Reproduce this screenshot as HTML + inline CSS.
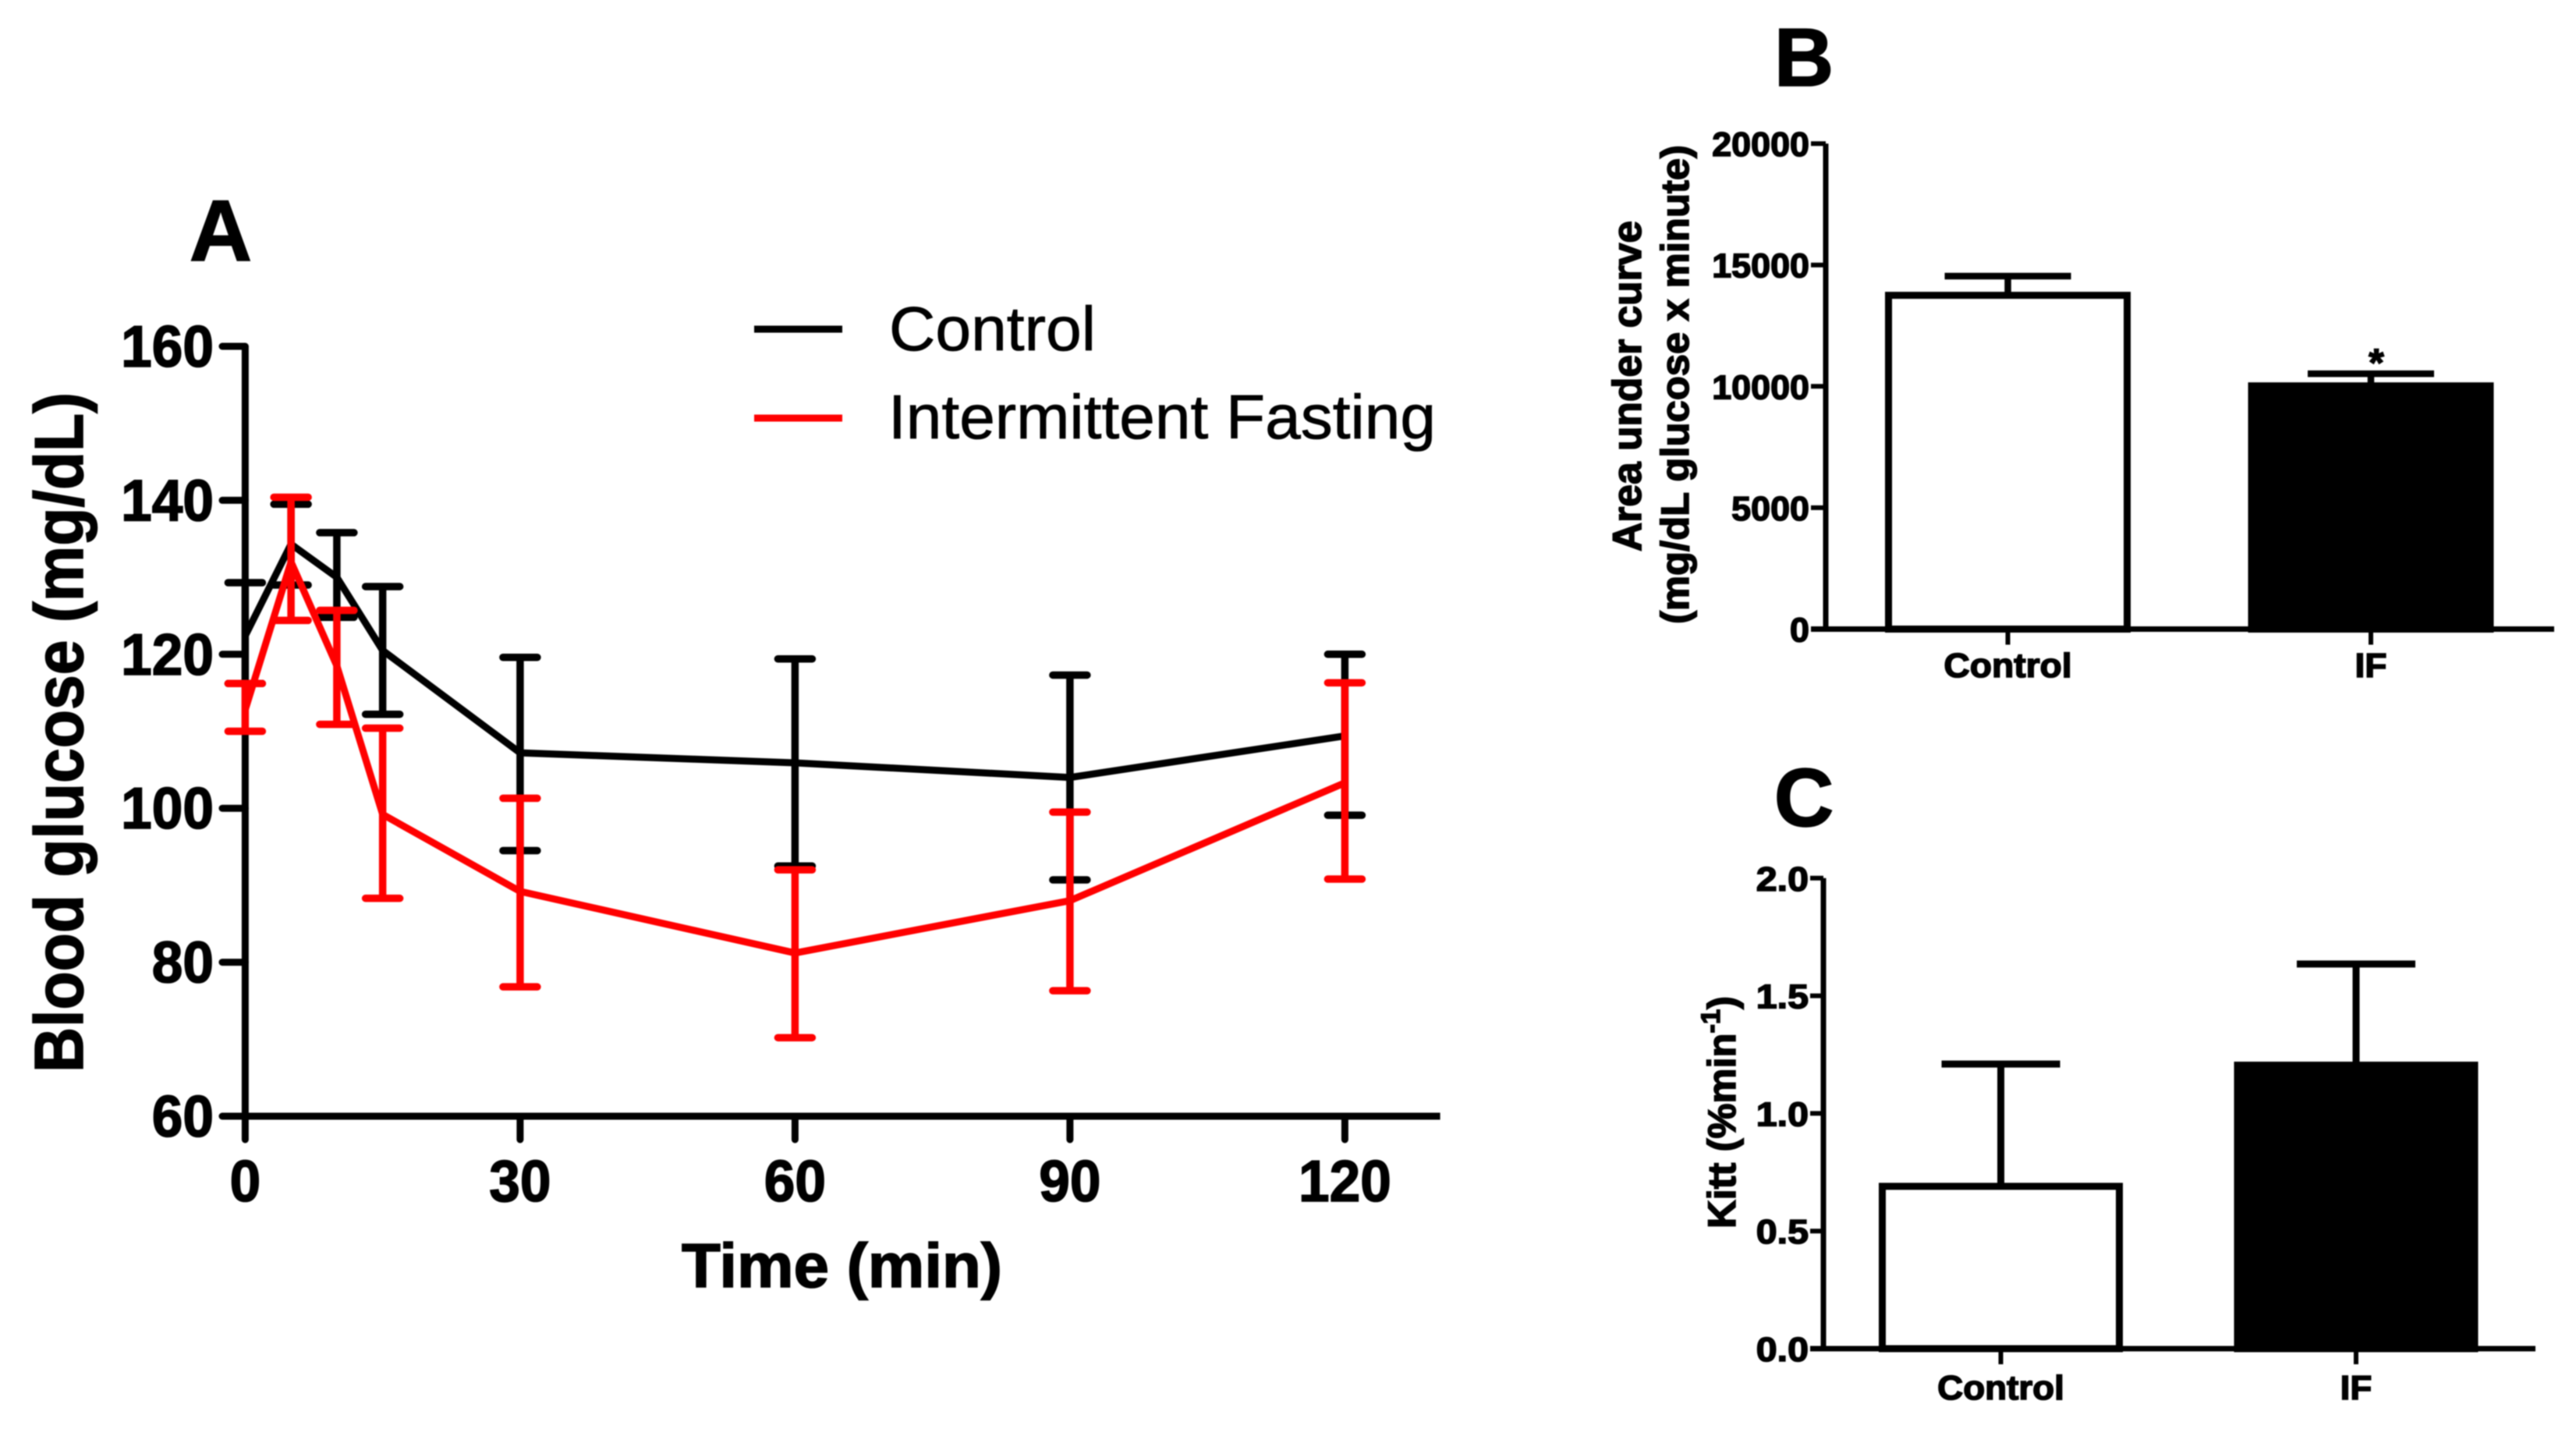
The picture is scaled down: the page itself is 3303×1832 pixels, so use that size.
<!DOCTYPE html>
<html lang="en">
<head>
<meta charset="utf-8">
<title>Blood glucose, area under curve and Kitt</title>
<style>
html,body{margin:0;padding:0;background:#fff;}
body{width:3303px;height:1832px;overflow:hidden;}
svg{display:block;filter:blur(0.8px);}
text{font-family:"Liberation Sans",Arial,sans-serif;fill:#000;stroke:#000;stroke-width:0.8px;}
.bold{font-weight:bold;stroke-width:1.6px;}
</style>
</head>
<body>
<svg id="figure" xmlns="http://www.w3.org/2000/svg" width="3303" height="1832" viewBox="0 0 3303 1832">
  <rect x="0" y="0" width="3303" height="1832" fill="#fff"/>

  <text class="bold" x="283" y="334" font-size="111" text-anchor="middle">A</text>
  <text class="bold" x="2313" y="110" font-size="106" text-anchor="middle">B</text>
  <text class="bold" x="2313" y="1059" font-size="106" text-anchor="middle">C</text>

  <text class="bold" transform="translate(106,939) rotate(-90)" font-size="88" text-anchor="middle" textLength="872" lengthAdjust="spacingAndGlyphs">Blood glucose (mg/dL)</text>
  <text class="bold" x="1079.5" y="1650" font-size="80" text-anchor="middle" textLength="411" lengthAdjust="spacingAndGlyphs">Time (min)</text>

  <g>
    <line x1="967" y1="422" x2="1080" y2="422" stroke="#000" stroke-width="9"/>
    <text x="1140" y="449" font-size="80" textLength="265" lengthAdjust="spacingAndGlyphs">Control</text>
    <line x1="967" y1="536" x2="1080" y2="536" stroke="#f00" stroke-width="9"/>
    <text x="1139" y="562" font-size="80" textLength="702" lengthAdjust="spacingAndGlyphs">Intermittent Fasting</text>
  </g>

  <text class="bold" transform="translate(2104,495) rotate(-90)" font-size="52" text-anchor="middle" textLength="424" lengthAdjust="spacingAndGlyphs">Area under curve</text>
  <text class="bold" transform="translate(2165,493) rotate(-90)" font-size="50" text-anchor="middle" textLength="614" lengthAdjust="spacingAndGlyphs">(mg/dL glucose x minute)</text>
  <text class="bold" x="3047" y="482" font-size="50" text-anchor="middle">*</text>

  <text class="bold" transform="translate(2225,1426) rotate(-90)" font-size="50" text-anchor="middle" textLength="298" lengthAdjust="spacingAndGlyphs">Kitt (%min<tspan font-size="34" dy="-20">-1</tspan><tspan dy="20">)</tspan></text>

  <g id="chart-a"></g>
  <g id="chart-b"></g>
  <g id="chart-c"></g>
</svg>

<script>
// Panel A data
const minutes = [0, 5, 10, 15, 30, 60, 90, 120];
const controlMeans = [122.4, 134.3, 130, 120.5, 107.2, 105.9, 104, 109.4];
const controlUpper = [129.3, 139.5, 135.8, 128.8, 119.6, 119.4, 117.3, 120];
const controlLower = [116.2, 129, 124.8, 112.2, 94.5, 92.5, 90.7, 99.1];
const fastingMeans = [112.8, 132, 118.5, 99.2, 89.2, 81.2, 88, 103.3];
const fastingUpper = [116.2, 140.4, 125.7, 110.4, 101.3, 92, 99.5, 116.3];
const fastingLower = [110, 124.4, 110.9, 88.3, 76.8, 70.2, 76.3, 90.8];
const glucoseXTicks = [0, 30, 60, 90, 120];
const glucoseYTicks = [60, 80, 100, 120, 140, 160];

// Panel B data
const aucCategories = ['Control', 'IF'];
const aucMeans = [13750, 10020];
const aucUpper = [14540, 10520];
const aucYTicks = [0, 5000, 10000, 15000, 20000];

// Panel C data
const kittCategories = ['Control', 'IF'];
const kittMeans = [0.69, 1.205];
const kittUpper = [1.21, 1.635];
const kittYTicks = ['0.0', '0.5', '1.0', '1.5', '2.0'];

const NS = 'http://www.w3.org/2000/svg';

function shape(parent, tag, props) {
  const node = document.createElementNS(NS, tag);
  for (const key in props) node.setAttribute(key, props[key]);
  parent.appendChild(node);
  return node;
}
function label(parent, x, y, str, size, sx, anchor) {
  const node = shape(parent, 'text', {
    class: 'bold',
    transform: 'translate(' + x + ',' + y + ') scale(' + sx + ',1)',
    'font-size': size,
    'text-anchor': anchor
  });
  node.textContent = str;
  return node;
}

// Axis functions
const xA = v => 314.4 + v * 11.75;
const yA = v => 1431 - (v - 60) * 9.87;
const yB = v => 806.5 - v * 0.03112;
const yC = v => 1729 - v * 301.6;
const bandB = i => 2574.5 + i * 465.5;
const bandC = i => 2565.5 + i * 455.5;

/* ---------- Panel A ---------- */
const chartA = document.getElementById('chart-a');

const axisA = shape(chartA, 'path', {
  d: 'M' + xA(0) + ' ' + yA(160) + 'V' + yA(60) + 'M' + xA(0) + ' ' + yA(60) + 'H' + xA(130.4),
  fill: 'none', stroke: '#000', 'stroke-width': 9, 'stroke-linecap': 'butt'
});



glucoseYTicks.forEach(v => {
  const tick = shape(chartA, 'line', {
    x1: 285, x2: xA(0), y1: yA(v), y2: yA(v),
    stroke: '#000', 'stroke-width': 9, 'stroke-linecap': 'round'
  });
  
  
  const text = label(chartA, 274, yA(v) + 26, String(v), 75, 0.95, 'end');
  
  
});
glucoseXTicks.forEach(v => {
  const tick = shape(chartA, 'line', {
    x1: xA(v), x2: xA(v), y1: yA(60), y2: yA(60) + 30,
    stroke: '#000', 'stroke-width': 9, 'stroke-linecap': 'round'
  });
  
  
  const text = label(chartA, xA(v), 1540, String(v), 75, 0.95, 'middle');
  
  
});

function drawSeries(means, upper, lower, color, seriesGroupName) {
  const group = shape(chartA, 'g', {});
  
  
  const pts = minutes.map((m, i) => xA(m) + ',' + yA(means[i])).join(' ');
  const line = shape(group, 'polyline', {
    points: pts, fill: 'none', stroke: color, 'stroke-width': 9, 'stroke-linejoin': 'miter'
  });
  
  
  minutes.forEach((m, i) => {
    const err = shape(group, 'path', {
      d: 'M' + xA(m) + ' ' + yA(upper[i]) + 'V' + yA(lower[i]) +
         'M' + (xA(m) - 22) + ' ' + yA(upper[i]) + 'H' + (xA(m) + 22) +
         'M' + (xA(m) - 22) + ' ' + yA(lower[i]) + 'H' + (xA(m) + 22),
      fill: 'none', stroke: color, 'stroke-width': 9.5, 'stroke-linecap': 'round'
    });
    
    
  });
}
drawSeries(controlMeans, controlUpper, controlLower, '#000', 'control-series');
drawSeries(fastingMeans, fastingUpper, fastingLower, '#f00', 'intermittent-fasting-series');

/* ---------- Bar panels ---------- */
function drawBars(cfg) {
  const root = document.getElementById(cfg.id);
  cfg.means.forEach((v, i) => {
    const cx = cfg.band(i);
    const err = shape(root, 'path', {
      d: 'M' + cx + ' ' + cfg.y(v) + 'V' + cfg.y(cfg.upper[i]) +
         'M' + (cx - cfg.capHalf) + ' ' + cfg.y(cfg.upper[i]) + 'H' + (cx + cfg.capHalf),
      fill: 'none', stroke: '#000', 'stroke-width': cfg.errWidth
    });
    
    
    const bar = shape(root, 'rect', {
      x: cx - cfg.barHalf, y: cfg.y(v), width: cfg.barHalf * 2, height: cfg.y(0) - cfg.y(v),
      fill: i === 0 ? '#fff' : '#000', stroke: '#000', 'stroke-width': cfg.barStroke
    });
    
    
    const tick = shape(root, 'line', {
      x1: cx, x2: cx, y1: cfg.y(0), y2: cfg.y(0) + 20, stroke: '#000', 'stroke-width': 6
    });
    
    
    const text = label(root, cx, cfg.catBaseline, cfg.categories[i], 44, cfg.catScale, 'middle');
    
    
  });
  const axis = shape(root, 'path', {
    d: 'M' + cfg.axisX + ' ' + cfg.y(cfg.top) + 'V' + cfg.y(0) + 'M' + cfg.tickLeft + ' ' + cfg.y(0) + 'H' + cfg.axisEnd,
    fill: 'none', stroke: '#000', 'stroke-width': 7
  });
  
  
  cfg.ticks.forEach(t => {
    const v = Number(t);
    const tick = shape(root, 'line', {
      x1: cfg.tickLeft, x2: cfg.axisX, y1: cfg.y(v), y2: cfg.y(v), stroke: '#000', 'stroke-width': 6
    });
    
    
    const text = label(root, cfg.tickLeft - 2, cfg.y(v) + 16, String(t), 44, cfg.tickScale, 'end');
    
    
  });
}

drawBars({
  id: 'chart-b', y: yB, band: bandB, means: aucMeans, upper: aucUpper, categories: aucCategories,
  ticks: aucYTicks, top: 20000, axisX: 2341, tickLeft: 2322, axisEnd: 3275,
  barHalf: 153, barStroke: 9, capHalf: 81, errWidth: 8.5, catBaseline: 868, catScale: 1.05, tickScale: 1.02
});
drawBars({
  id: 'chart-c', y: yC, band: bandC, means: kittMeans, upper: kittUpper, categories: kittCategories,
  ticks: kittYTicks, top: 2, axisX: 2338, tickLeft: 2321, axisEnd: 3251,
  barHalf: 152, barStroke: 9, capHalf: 76, errWidth: 9, catBaseline: 1794, catScale: 1.04, tickScale: 1.1
});
</script>
</body>
</html>
